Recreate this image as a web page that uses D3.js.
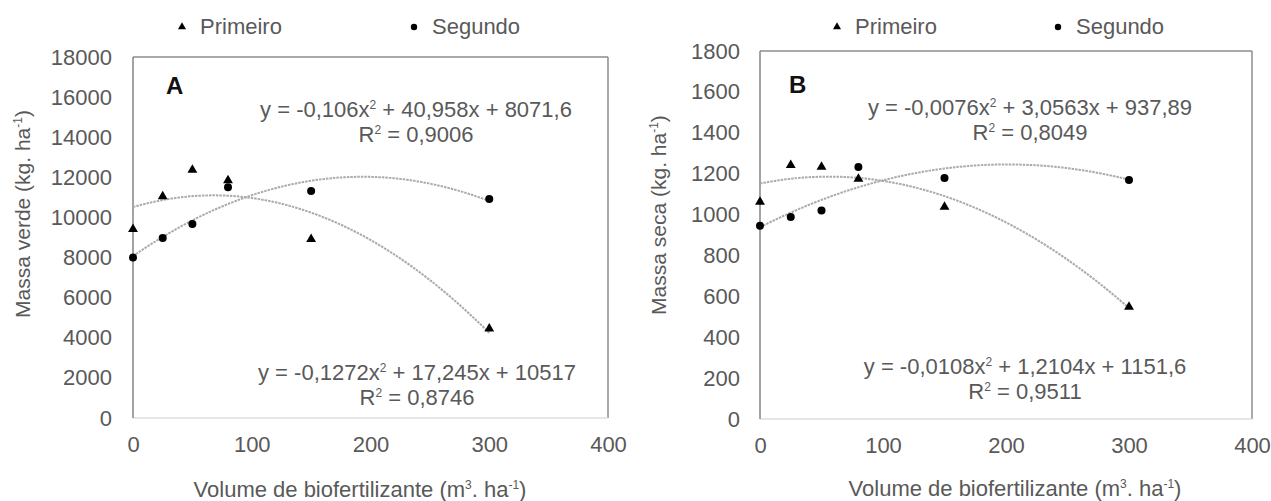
<!DOCTYPE html>
<html>
<head>
<meta charset="utf-8">
<script src="https://cdn.jsdelivr.net/npm/d3@7"></script>
<style>
  body { margin: 0; background: #fff; }
  text { font-family: "Liberation Sans", Arial, sans-serif; fill: #595959; }
</style>
</head>
<body>
<div class="app"></div>
<script>
// Doses of biofertilizer (x values, shared by both panels)
var volumes = [0, 25, 50, 80, 150, 300];

// Panel A - massa verde
var verdePrimeiro = [9420, 11050, 12370, 11850, 8920, 4450];
var verdeSegundo  = [8000, 8970, 9670, 11500, 11320, 10920];
// Panel B - massa seca
var secaPrimeiro = [1062, 1242, 1233, 1174, 1037, 548];
var secaSegundo  = [945, 988, 1020, 1232, 1179, 1169];

// Trendline coefficients as printed on the chart [a, b, c] for a*x^2 + b*x + c
var verdePrimeiroFit = [-0.1272, 17.245, 10517];
var verdeSegundoFit  = [-0.106, 40.958, 8071.6];
var secaPrimeiroFit  = [-0.0108, 1.2104, 1151.6];
var secaSegundoFit   = [-0.0076, 3.0563, 937.89];

var xTicks = [0, 100, 200, 300, 400];
var yTicksA = [0, 2000, 4000, 6000, 8000, 10000, 12000, 14000, 16000, 18000];
var yTicksB = [0, 200, 400, 600, 800, 1000, 1200, 1400, 1600, 1800];

var svg = d3.select(".app").append("svg")
    .attr("width", 1271)
    .attr("height", 501);

var fontSize = 22;

function drawPanel(cfg) {
    var x = d3.scaleLinear().domain([0, 400]).range([cfg.left, cfg.right]),
        y = d3.scaleLinear().domain([0, cfg.yMax]).range([cfg.bottom, cfg.top]);

    var g = svg.append("g");

    // box: top and right border, light bottom, darker left axis
    g.append("line").attr("x1", cfg.left).attr("x2", cfg.right).attr("y1", cfg.top).attr("y2", cfg.top)
        .attr("stroke", "#8c8c8c").attr("stroke-width", 1.5);
    g.append("line").attr("x1", cfg.right).attr("x2", cfg.right).attr("y1", cfg.top).attr("y2", cfg.bottom)
        .attr("stroke", "#8c8c8c").attr("stroke-width", 1.5);
    g.append("line").attr("x1", cfg.left).attr("x2", cfg.right).attr("y1", cfg.bottom).attr("y2", cfg.bottom)
        .attr("stroke", "#dedede").attr("stroke-width", 1.5);
    g.append("line").attr("x1", cfg.left).attr("x2", cfg.left).attr("y1", cfg.top).attr("y2", cfg.bottom)
        .attr("stroke", "#858585").attr("stroke-width", 1.5);

    // y tick labels
    var yAxis = d3.axisLeft(y).tickValues(cfg.yTicks).tickFormat(d3.format("d")).tickSize(0).tickPadding(cfg.yPad);
    var ya = g.append("g").attr("transform", "translate(" + cfg.left + ",0)").call(yAxis);
    ya.select(".domain").remove();
    ya.selectAll("text").attr("font-size", fontSize).attr("font-family", null).attr("fill", null);

    // x tick labels
    var xAxis = d3.axisBottom(x).tickValues(xTicks).tickFormat(d3.format("d")).tickSize(0).tickPadding(18);
    var xa = g.append("g").attr("transform", "translate(0," + cfg.bottom + ")").call(xAxis);
    xa.select(".domain").remove();
    xa.selectAll("text").attr("font-size", fontSize).attr("font-family", null).attr("fill", null);

    // axis titles
    var yt = g.append("text")
        .attr("transform", "translate(" + cfg.yTitleX + "," + cfg.yTitleY + ") rotate(-90)")
        .attr("text-anchor", "middle")
        .attr("dy", "0.35em")
        .attr("font-size", 21);
    yt.append("tspan").text(cfg.yTitle + " (kg. ha");
    yt.append("tspan").attr("font-size", 12).attr("dy", -8).text("-1");
    yt.append("tspan").attr("dy", 8).text(")");

    var xt = g.append("text")
        .attr("x", cfg.xTitleX).attr("y", cfg.xTitleY)
        .attr("text-anchor", "middle")
        .attr("font-size", fontSize);
    xt.append("tspan").text("Volume de biofertilizante (m");
    xt.append("tspan").attr("font-size", 12).attr("dy", -8).text("3");
    xt.append("tspan").attr("dy", 8).text(". ha");
    xt.append("tspan").attr("font-size", 12).attr("dy", -8).text("-1");
    xt.append("tspan").attr("dy", 8).text(")");

    // panel letter
    g.append("text").attr("x", cfg.letterX).attr("y", cfg.letterY)
        .attr("font-size", 24).attr("font-weight", "bold")
        .style("fill", "#111").text(cfg.letter);

    // trendlines
    var line = d3.line().x(function(d){ return x(d[0]); }).y(function(d){ return y(d[1]); });
    [cfg.fitP, cfg.fitS].forEach(function(c){
        var pts = d3.range(0, 301, 3).map(function(v){ return [v, c[0]*v*v + c[1]*v + c[2]]; });
        g.append("path").datum(pts)
            .attr("d", line)
            .attr("fill", "none")
            .attr("stroke", "#ababab")
            .attr("stroke-width", 2)
            .attr("stroke-dasharray", "2.5,1");
    });

    // markers
    var tri = d3.symbol().type(d3.symbolTriangle).size(42);
    g.selectAll(".tri").data(cfg.primeiro).enter().append("path")
        .attr("class", "tri")
        .attr("d", tri)
        .attr("transform", function(d, i){ return "translate(" + x(volumes[i]) + "," + y(d) + ")"; })
        .attr("fill", "#000");
    g.selectAll(".dot").data(cfg.segundo).enter().append("circle")
        .attr("class", "dot")
        .attr("cx", function(d, i){ return x(volumes[i]); })
        .attr("cy", function(d){ return y(d); })
        .attr("r", 4)
        .attr("fill", "#000");

    // equations
    function equation(e, cx, cy, r2) {
        var t = g.append("text").attr("x", cx).attr("y", cy).attr("text-anchor", "middle").attr("font-size", fontSize);
        t.append("tspan").text("y = " + e[0] + "x");
        t.append("tspan").attr("font-size", 12).attr("dy", -8).text("2");
        t.append("tspan").attr("dy", 8).text(" + " + e[1] + "x + " + e[2]);
        var r = g.append("text").attr("x", cx).attr("y", cy + 25).attr("text-anchor", "middle").attr("font-size", fontSize);
        r.append("tspan").text("R");
        r.append("tspan").attr("font-size", 12).attr("dy", -8).text("2");
        r.append("tspan").attr("dy", 8).text(" = " + r2);
    }
    equation(cfg.eqTop, cfg.eqTopX, cfg.eqTopY, cfg.r2Top);
    equation(cfg.eqBot, cfg.eqBotX, cfg.eqBotY, cfg.r2Bot);

    // legend
    g.append("path").attr("d", d3.symbol().type(d3.symbolTriangle).size(28))
        .attr("transform", "translate(" + cfg.legP + ",27)").attr("fill", "#000");
    g.append("text").attr("x", cfg.legP + 18).attr("y", 34).attr("font-size", fontSize).text("Primeiro");
    g.append("circle").attr("cx", cfg.legS).attr("cy", 27).attr("r", 3.2).attr("fill", "#000");
    g.append("text").attr("x", cfg.legS + 18).attr("y", 34).attr("font-size", fontSize).text("Segundo");
}

drawPanel({
    left: 133, right: 608, top: 57, bottom: 418, yMax: 18000, yTicks: yTicksA, yPad: 21,
    primeiro: verdePrimeiro, segundo: verdeSegundo,
    fitP: verdePrimeiroFit, fitS: verdeSegundoFit,
    yTitle: "Massa verde", yTitleX: 23, yTitleY: 214,
    xTitleX: 360, xTitleY: 497,
    letter: "A", letterX: 166, letterY: 94,
    eqTop: ["-0,106", "40,958", "8071,6"], r2Top: "0,9006", eqTopX: 416, eqTopY: 117,
    eqBot: ["-0,1272", "17,245", "10517"], r2Bot: "0,8746", eqBotX: 417, eqBotY: 380,
    legP: 182, legS: 414
});

drawPanel({
    left: 760, right: 1252, top: 51, bottom: 419, yMax: 1800, yTicks: yTicksB, yPad: 20,
    primeiro: secaPrimeiro, segundo: secaSegundo,
    fitP: secaPrimeiroFit, fitS: secaSegundoFit,
    yTitle: "Massa seca", yTitleX: 659, yTitleY: 215,
    xTitleX: 1015, xTitleY: 496,
    letter: "B", letterX: 789, letterY: 93,
    eqTop: ["-0,0076", "3,0563", "937,89"], r2Top: "0,8049", eqTopX: 1030, eqTopY: 115,
    eqBot: ["-0,0108", "1,2104", "1151,6"], r2Bot: "0,9511", eqBotX: 1025, eqBotY: 374,
    legP: 837, legS: 1058
});
</script>
</body>
</html>
